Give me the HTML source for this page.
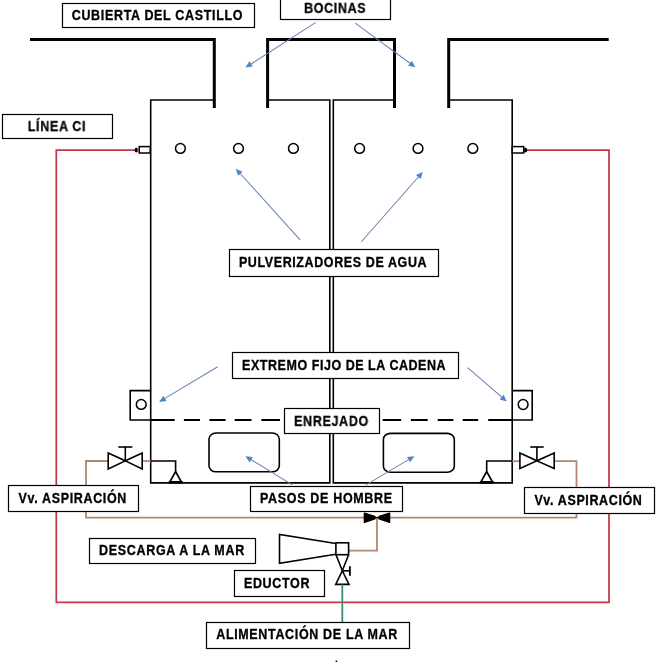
<!DOCTYPE html>
<html><head><meta charset="utf-8"><style>
html,body{margin:0;padding:0;background:#fff;width:671px;height:662px;overflow:hidden}
svg{display:block}
svg{will-change:transform}
text{font-family:"Liberation Sans",sans-serif;font-weight:bold;fill:#000;stroke:#000;stroke-width:0.3px}
</style></head><body>
<svg width="671" height="662" viewBox="0 0 671 662">
<polyline points="30,39.5 214.3,39.5 214.3,108" stroke="#000" stroke-width="3" fill="none" stroke-linejoin="miter"/>
<polyline points="267.6,108 267.6,39.5 394.5,39.5 394.5,108" stroke="#000" stroke-width="3" fill="none" stroke-linejoin="miter"/>
<polyline points="448.7,108 448.7,39.5 608.7,39.5" stroke="#000" stroke-width="3" fill="none" stroke-linejoin="miter"/>
<polyline points="214.3,100 150.7,100 150.7,482.9 329.8,482.9 329.8,100 267.6,100" stroke="#000" stroke-width="1.6" fill="none" stroke-linejoin="miter"/>
<polyline points="394.5,100 333.3,100 333.3,482.9 512.2,482.9 512.2,100 448.7,100" stroke="#000" stroke-width="1.6" fill="none" stroke-linejoin="miter"/>
<circle cx="180.4" cy="148.4" r="4.9" fill="none" stroke="#000" stroke-width="1.5"/>
<circle cx="238.5" cy="148.4" r="4.9" fill="none" stroke="#000" stroke-width="1.5"/>
<circle cx="293.4" cy="148.4" r="4.9" fill="none" stroke="#000" stroke-width="1.5"/>
<circle cx="359.6" cy="148.4" r="4.9" fill="none" stroke="#000" stroke-width="1.5"/>
<circle cx="418" cy="148.4" r="4.9" fill="none" stroke="#000" stroke-width="1.5"/>
<circle cx="472.8" cy="148.4" r="4.9" fill="none" stroke="#000" stroke-width="1.5"/>
<polyline points="135,150 56.3,150 56.3,602.3 609,602.3 609,150 527,150" stroke="#c23a4a" stroke-width="1.75" fill="none" stroke-linejoin="miter"/>
<rect x="139.2" y="146.6" width="11" height="6.4" fill="#fff" stroke="#000" stroke-width="1.5"/>
<ellipse cx="136.3" cy="150" rx="1.6" ry="2.6" fill="#000"/>
<rect x="512.2" y="146.6" width="11.5" height="6.4" fill="#fff" stroke="#000" stroke-width="1.5"/>
<ellipse cx="525.6" cy="150" rx="1.6" ry="2.6" fill="#000"/>
<polyline points="150.7,390.6 130.2,390.6 130.2,420 150.7,420" stroke="#000" stroke-width="1.6" fill="none" stroke-linejoin="miter"/>
<circle cx="141.2" cy="404.4" r="4.9" fill="none" stroke="#000" stroke-width="1.5"/>
<polyline points="512.2,390.6 532.2,390.6 532.2,420 512.2,420" stroke="#000" stroke-width="1.6" fill="none" stroke-linejoin="miter"/>
<circle cx="523.1" cy="404.5" r="4.9" fill="none" stroke="#000" stroke-width="1.5"/>
<line x1="150.7" y1="420" x2="174.7" y2="420" stroke="#000" stroke-width="2"/>
<line x1="183.9" y1="420" x2="200" y2="420" stroke="#000" stroke-width="2"/>
<line x1="209.4" y1="420" x2="225.6" y2="420" stroke="#000" stroke-width="2"/>
<line x1="234.7" y1="420" x2="251.5" y2="420" stroke="#000" stroke-width="2"/>
<line x1="261.3" y1="420" x2="280" y2="420" stroke="#000" stroke-width="2"/>
<line x1="382.7" y1="420" x2="401.1" y2="420" stroke="#000" stroke-width="2"/>
<line x1="410.9" y1="420" x2="427.7" y2="420" stroke="#000" stroke-width="2"/>
<line x1="437.7" y1="420" x2="453.4" y2="420" stroke="#000" stroke-width="2"/>
<line x1="462.7" y1="420" x2="478.2" y2="420" stroke="#000" stroke-width="2"/>
<line x1="488.2" y1="420" x2="512" y2="420" stroke="#000" stroke-width="2"/>
<rect x="209" y="433" width="70.3" height="38.8" rx="7" ry="6" fill="none" stroke="#000" stroke-width="1.6"/>
<rect x="383.4" y="433.4" width="70.9" height="38.8" rx="7" ry="6" fill="none" stroke="#000" stroke-width="1.6"/>
<polyline points="150.7,461 175.6,461 175.6,471.5" stroke="#000" stroke-width="1.6" fill="none" stroke-linejoin="miter"/>
<polygon points="175.6,471.5 169.6,482.4 181.6,482.4" stroke="#000" stroke-width="1.7" fill="none" stroke-linejoin="miter"/>
<line x1="168.8" y1="482.3" x2="182.6" y2="482.3" stroke="#000" stroke-width="2.6"/>
<polyline points="512.2,461 486.7,461 486.7,471.5" stroke="#000" stroke-width="1.6" fill="none" stroke-linejoin="miter"/>
<polygon points="486.7,471.5 480.7,482.4 492.7,482.4" stroke="#000" stroke-width="1.7" fill="none" stroke-linejoin="miter"/>
<line x1="479.9" y1="482.3" x2="493.7" y2="482.3" stroke="#000" stroke-width="2.6"/>
<polyline points="108.2,461 86,461 86,517.6 576.5,517.6 576.5,461.2 554.2,461.2" stroke="#b3866f" stroke-width="1.8" fill="none" stroke-linejoin="miter"/>
<line x1="142.2" y1="461" x2="150.7" y2="461" stroke="#b3866f" stroke-width="1.8"/>
<line x1="512.2" y1="461.2" x2="519.9" y2="461.2" stroke="#b3866f" stroke-width="1.8"/>
<polyline points="377,517.6 377,550.7 348.6,550.7" stroke="#b3866f" stroke-width="1.8" fill="none" stroke-linejoin="miter"/>
<polygon points="108.2,453 125.3,460.8 142.2,453 142.2,469 125.3,460.8 108.2,469" stroke="#000" stroke-width="1.6" fill="none" stroke-linejoin="miter"/><line x1="125.3" y1="460.8" x2="125.3" y2="447" stroke="#000" stroke-width="1.6"/><line x1="118.3" y1="447" x2="132.4" y2="447" stroke="#000" stroke-width="1.6"/>
<polygon points="519.9,453 536.9,460.8 554.2,453 554.2,468.6 536.9,460.8 519.9,468.6" stroke="#000" stroke-width="1.6" fill="none" stroke-linejoin="miter"/><line x1="536.9" y1="460.8" x2="536.9" y2="447" stroke="#000" stroke-width="1.6"/><line x1="530.3" y1="447" x2="543.7" y2="447" stroke="#000" stroke-width="1.6"/>
<polygon points="364.5,513.2 374.8,516.4 374.8,518.8 364.5,522.2" fill="#000" stroke="#000" stroke-width="1.6" stroke-linejoin="round"/>
<polygon points="389.5,513.2 379.2,516.4 379.2,518.8 389.5,522.2" fill="#000" stroke="#000" stroke-width="1.6" stroke-linejoin="round"/>
<line x1="374" y1="517.6" x2="380" y2="517.6" stroke="#000" stroke-width="1.2"/>
<polyline points="335.8,543.5 279.5,534.5 279.5,563.4 335.8,554.2" stroke="#000" stroke-width="1.6" fill="none" stroke-linejoin="miter"/>
<rect x="335.9" y="542.8" width="12.7" height="11.9" fill="#fff" stroke="#000" stroke-width="1.6"/>
<polyline points="336,554.7 342.3,570.8 349,584.4 335.7,584.4 342.3,570.8 348.6,554.7" stroke="#000" stroke-width="1.6" fill="none" stroke-linejoin="miter"/>
<line x1="342.3" y1="570.8" x2="349.9" y2="570.8" stroke="#000" stroke-width="1.6"/>
<line x1="349.9" y1="566.3" x2="349.9" y2="575.8" stroke="#000" stroke-width="1.8"/>
<line x1="342.3" y1="584.4" x2="342.3" y2="622.3" stroke="#3d8f5f" stroke-width="1.8"/>
<line x1="315.8" y1="22.4" x2="250.28063635910928" y2="64.46640961034461" stroke="#6a82b4" stroke-width="1.05"/><polygon points="245.4,67.6 249.45,61.32 252.80,66.53" fill="#4F85C4"/>
<line x1="355.2" y1="23.2" x2="410.7174165393157" y2="63.77751374966595" stroke="#6a82b4" stroke-width="1.05"/><polygon points="415.4,67.2 408.08,65.69 411.74,60.68" fill="#4F85C4"/>
<line x1="300.1" y1="239.8" x2="239.69034663718585" y2="173.00176743240922" stroke="#6a82b4" stroke-width="1.05"/><polygon points="235.8,168.7 242.66,171.66 238.06,175.82" fill="#4F85C4"/>
<line x1="361.2" y1="242" x2="418.97144154644" y2="176.25684979861296" stroke="#6a82b4" stroke-width="1.05"/><polygon points="422.8,171.9 420.64,179.05 415.98,174.96" fill="#4F85C4"/>
<line x1="217.7" y1="366.8" x2="164.07570516661838" y2="398.9196714786978" stroke="#6a82b4" stroke-width="1.05"/><polygon points="159.1,401.9 163.34,395.75 166.53,401.07" fill="#4F85C4"/>
<line x1="467.6" y1="367.6" x2="502.41294394709973" y2="397.7060918318031" stroke="#6a82b4" stroke-width="1.05"/><polygon points="506.8,401.5 499.63,399.40 503.68,394.71" fill="#4F85C4"/>
<line x1="292.3" y1="484.9" x2="250.34720850188287" y2="459.22739624742087" stroke="#6a82b4" stroke-width="1.05"/><polygon points="245.4,456.2 252.82,457.11 249.58,462.39" fill="#4F85C4"/>
<line x1="366" y1="484.9" x2="409.4111464662185" y2="459.1582664549489" stroke="#6a82b4" stroke-width="1.05"/><polygon points="414.4,456.2 410.13,462.33 406.97,457.00" fill="#4F85C4"/>
<rect x="62.5" y="3.5" width="192.0" height="24.0" fill="#fff" stroke="#000" stroke-width="1.2"/>
<text transform="translate(71.7,19.8) scale(0.94,1.1)" x="0" y="0" font-size="13.3" textLength="181.70" lengthAdjust="spacing">CUBIERTA DEL CASTILLO</text>
<rect x="280.5" y="-2.5" width="110.0" height="22.0" fill="#fff" stroke="#000" stroke-width="1.2"/>
<text transform="translate(304.09999999999997,13.2) scale(0.94,1.1)" x="0" y="0" font-size="13.3" textLength="65.32" lengthAdjust="spacing">BOCINAS</text>
<rect x="2.5" y="114.5" width="110.0" height="24.0" fill="#fff" stroke="#000" stroke-width="1.2"/>
<text transform="translate(27.8,131.4) scale(0.94,1.1)" x="0" y="0" font-size="13.3" textLength="61.38" lengthAdjust="spacing">LÍNEA CI</text>
<rect x="229.5" y="249.5" width="209.0" height="27.0" fill="#fff" stroke="#000" stroke-width="1.2"/>
<text transform="translate(238.89999999999998,266.5) scale(0.94,1.1)" x="0" y="0" font-size="13.3" textLength="199.68" lengthAdjust="spacing">PULVERIZADORES DE AGUA</text>
<rect x="232.5" y="352.5" width="226.0" height="26.0" fill="#fff" stroke="#000" stroke-width="1.2"/>
<text transform="translate(242.1,369.7) scale(0.94,1.1)" x="0" y="0" font-size="13.3" textLength="216.49" lengthAdjust="spacing">EXTREMO FIJO DE LA CADENA</text>
<rect x="284.5" y="408.5" width="95.0" height="25.0" fill="#fff" stroke="#000" stroke-width="1.2"/>
<text transform="translate(294.09999999999997,426.2) scale(0.94,1.1)" x="0" y="0" font-size="13.3" textLength="78.83" lengthAdjust="spacing">ENREJADO</text>
<rect x="8.5" y="485.5" width="130.0" height="26.0" fill="#fff" stroke="#000" stroke-width="1.2"/>
<text transform="translate(18.599999999999998,502.7) scale(0.94,1.1)" x="0" y="0" font-size="13.3" textLength="114.68" lengthAdjust="spacing">Vv. ASPIRACIÓN</text>
<rect x="250.5" y="486.5" width="152.0" height="25.0" fill="#fff" stroke="#000" stroke-width="1.2"/>
<text transform="translate(260.0,502.8) scale(0.94,1.1)" x="0" y="0" font-size="13.3" textLength="140.53" lengthAdjust="spacing">PASOS DE HOMBRE</text>
<rect x="524.5" y="487.5" width="130.0" height="26.0" fill="#fff" stroke="#000" stroke-width="1.2"/>
<text transform="translate(534.4000000000001,505.2) scale(0.94,1.1)" x="0" y="0" font-size="13.3" textLength="114.36" lengthAdjust="spacing">Vv. ASPIRACIÓN</text>
<rect x="89.5" y="538.5" width="166.0" height="25.0" fill="#fff" stroke="#000" stroke-width="1.2"/>
<text transform="translate(99.0,554.6) scale(0.94,1.1)" x="0" y="0" font-size="13.3" textLength="154.47" lengthAdjust="spacing">DESCARGA A LA MAR</text>
<rect x="234.5" y="570.5" width="90.0" height="26.0" fill="#fff" stroke="#000" stroke-width="1.2"/>
<text transform="translate(243.89999999999998,587.5) scale(0.94,1.1)" x="0" y="0" font-size="13.3" textLength="69.79" lengthAdjust="spacing">EDUCTOR</text>
<rect x="206.5" y="622.5" width="203.0" height="26.0" fill="#fff" stroke="#000" stroke-width="1.2"/>
<text transform="translate(216.2,638.9) scale(0.94,1.1)" x="0" y="0" font-size="13.3" textLength="192.66" lengthAdjust="spacing">ALIMENTACIÓN DE LA MAR</text>
<rect x="335.6" y="660.6" width="1.6" height="1.4" fill="#000"/>
</svg>
</body></html>
